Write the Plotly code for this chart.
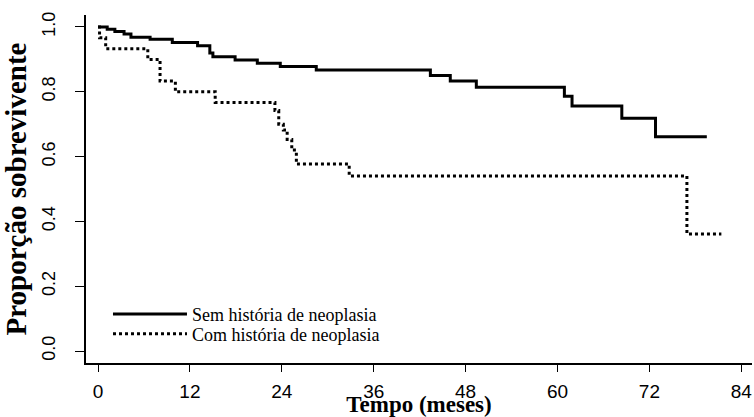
import plotly.graph_objects as go

# Kaplan-Meier step data (months, survival proportion)
sem_time = [0, 1.2, 2.2, 3.4, 4.3, 6.8, 9.7, 13.0, 14.6, 15.0, 17.9, 20.8, 23.8, 28.5,
            43.4, 46.0, 49.4, 60.9, 61.9, 68.4, 72.8, 79.5]
sem_surv = [1.0, 0.993, 0.986, 0.978, 0.968, 0.962, 0.952, 0.942, 0.92, 0.908, 0.898, 0.888,
            0.878, 0.867, 0.850, 0.833, 0.814, 0.786, 0.756, 0.718, 0.661, 0.661]

com_time = [0, 0.2, 1.0, 6.5, 8.1, 10.1, 15.3, 23.1, 23.6, 24.2, 24.7, 25.3, 25.9,
            32.8, 76.9, 81.4]
com_surv = [1.0, 0.967, 0.933, 0.90, 0.833, 0.80, 0.767, 0.742, 0.70, 0.682, 0.653, 0.62,
            0.577, 0.54, 0.361, 0.361]

x_ticks = [0, 12, 24, 36, 48, 60, 72, 84]
y_ticks = [0.0, 0.2, 0.4, 0.6, 0.8, 1.0]
y_ticklabels = ["0.0", "0.2", "0.4", "0.6", "0.8", "1.0"]

serif = "Liberation Serif, Times New Roman, serif"
sans = "Liberation Sans Narrow, Arial Narrow, Liberation Sans, sans-serif"

fig = go.Figure()
fig.add_trace(go.Scatter(
    x=sem_time, y=sem_surv, mode="lines", line_shape="hv",
    line=dict(color="black", width=3),
    name="Sem história de neoplasia", legend="legend"))
fig.add_trace(go.Scatter(
    x=com_time, y=com_surv, mode="lines", line_shape="hv",
    line=dict(color="black", width=3, dash="3px,3px"),
    name="Com história de neoplasia", legend="legend2"))

leg_common = dict(xanchor="left", yanchor="middle",
                  font=dict(family=serif, size=18, color="black"),
                  bgcolor="rgba(0,0,0,0)", itemwidth=74, borderwidth=0)

fig.update_layout(
    width=754, height=417,
    margin=dict(l=86, r=2, t=15, b=54, autoexpand=False),
    plot_bgcolor="white", paper_bgcolor="white",
    showlegend=True,
    legend=dict(x=0.033, y=0.14, **leg_common),
    legend2=dict(x=0.033, y=0.083, **leg_common),
    xaxis=dict(range=[-1.57, 85.4], tickmode="array", tickvals=x_ticks,
               automargin=False,
               ticks="outside", ticklen=7, tickwidth=1.2, tickcolor="black",
               ticklabelstandoff=3,
               showline=True, linecolor="black", linewidth=1.5,
               showgrid=False, zeroline=False,
               tickfont=dict(family=sans, size=19, color="black"),
               title=dict(text="<b>Tempo (meses)</b>", standoff=0,
                          font=dict(family=serif, size=23, color="black"))),
    yaxis=dict(range=[-0.037, 1.037], tickmode="array", tickvals=y_ticks,
               ticktext=y_ticklabels, tickangle=-90,
               automargin=False,
               ticks="outside", ticklen=9, tickwidth=1.2, tickcolor="black",
               ticklabelstandoff=13,
               showline=True, linecolor="black", linewidth=1.5,
               showgrid=False, zeroline=False,
               tickfont=dict(family=sans, size=18, color="black"),
               title=dict(text="<b>Proporção sobrevivente</b>", standoff=8,
                          font=dict(family=serif, size=29, color="black"))),
)

fig.write_html("out.html", config={"displayModeBar": False},
               post_script="document.body.style.margin='0px';document.body.style.padding='0px';")
